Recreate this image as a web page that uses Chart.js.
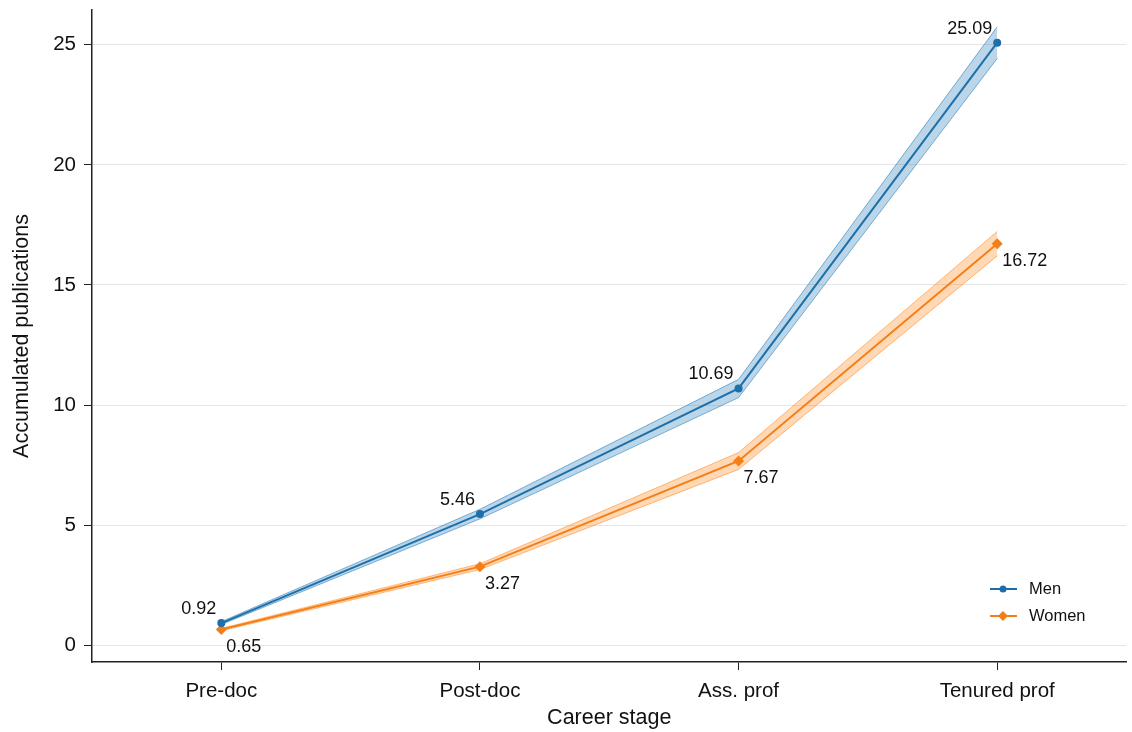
<!DOCTYPE html>
<html>
<head>
<meta charset="utf-8">
<script src="https://cdn.jsdelivr.net/npm/chart.js@4"></script>
<style>
  html, body { margin: 0; padding: 0; background: #fff; }
  #wrap { width: 1132px; height: 732px; }
</style>
</head>
<body>
<div id="wrap"><canvas id="pubChart" width="1132" height="732"></canvas></div>
<script>
// data
const categories = ["Pre-doc", "Post-doc", "Ass. prof", "Tenured prof"];
const menValues = [0.92, 5.46, 10.69, 25.09];
const menLow = [0.86, 5.26, 10.31, 24.43];
const menHigh = [0.98, 5.66, 11.07, 25.75];
const womenValues = [0.65, 3.27, 7.67, 16.72];
const womenLow = [0.60, 3.15, 7.32, 16.21];
const womenHigh = [0.70, 3.39, 8.02, 17.23];
const yTicks = [0, 5, 10, 15, 20, 25];

const menColor = "#1f6da8";
const womenColor = "#f27e1a";
const font = "'Liberation Sans', Arial, Helvetica, sans-serif";

// value labels next to each point
const valueLabels = {
  id: "valueLabels",
  afterDatasetsDraw(chart) {
    const ctx = chart.ctx;
    ctx.save();
    ctx.font = "18px " + font;
    ctx.fillStyle = "#111";
    ctx.textBaseline = "middle";
    chart.data.datasets.forEach((ds, i) => {
      if (!ds.labelPos) return;
      const meta = chart.getDatasetMeta(i);
      meta.data.forEach((pt, j) => {
        const txt = ds.data[j].toFixed(2);
        if (ds.labelPos === "above") {
          ctx.textAlign = "right";
          ctx.fillText(txt, pt.x - 5, pt.y - 14);
        } else {
          ctx.textAlign = "left";
          ctx.fillText(txt, pt.x + 5, pt.y + 17);
        }
      });
    });
    ctx.restore();
  }
};

// legend inside the plot, bottom right
const innerLegend = {
  id: "innerLegend",
  afterDraw(chart) {
    const ctx = chart.ctx;
    const items = chart.data.datasets.filter(d => d.labelPos);
    ctx.save();
    ctx.font = "16.5px " + font;
    ctx.textBaseline = "middle";
    ctx.textAlign = "left";
    items.forEach((ds, i) => {
      const y = 589 + i * 27;
      ctx.strokeStyle = ds.borderColor;
      ctx.lineWidth = 2;
      ctx.beginPath();
      ctx.moveTo(990, y);
      ctx.lineTo(1017, y);
      ctx.stroke();
      ctx.fillStyle = ds.borderColor;
      ctx.beginPath();
      if (ds.pointStyle === "rectRot") {
        ctx.moveTo(1003, y - 5); ctx.lineTo(1008, y); ctx.lineTo(1003, y + 5); ctx.lineTo(998, y);
      } else {
        ctx.arc(1003, y, 3.5, 0, Math.PI * 2);
      }
      ctx.fill();
      ctx.fillStyle = "#111";
      ctx.fillText(ds.label, 1029, y);
    });
    ctx.restore();
  }
};

const bandStyle = (data, fillColor, edgeColor, fill) => ({
  data: data,
  borderColor: edgeColor,
  borderWidth: 1,
  backgroundColor: fillColor,
  pointRadius: 0,
  fill: fill,
  tension: 0
});

new Chart(document.getElementById("pubChart"), {
  type: "line",
  data: {
    labels: categories,
    datasets: [
      bandStyle(menHigh, "rgba(31,119,180,0.3)", "rgba(31,119,180,0.55)", "+1"),
      bandStyle(menLow, "rgba(31,119,180,0.3)", "rgba(31,119,180,0.55)", false),
      bandStyle(womenHigh, "rgba(255,127,14,0.3)", "rgba(255,127,14,0.5)", "+1"),
      bandStyle(womenLow, "rgba(255,127,14,0.3)", "rgba(255,127,14,0.5)", false),
      {
        label: "Men", data: menValues, labelPos: "above",
        borderColor: menColor, backgroundColor: menColor, borderWidth: 2,
        pointStyle: "circle", pointRadius: 4, pointBorderWidth: 0, fill: false
      },
      {
        label: "Women", data: womenValues, labelPos: "below",
        borderColor: womenColor, backgroundColor: womenColor, borderWidth: 2,
        pointStyle: "rectRot", pointRadius: 5.5, pointBorderWidth: 0, fill: false
      }
    ]
  },
  options: {
    responsive: false,
    animation: false,
    layout: { padding: { top: 10, right: 5, left: 0, bottom: 0 } },
    plugins: { legend: { display: false }, tooltip: { enabled: false } },
    scales: {
      x: {
        type: "category",
        offset: true,
        afterFit: s => { s.height = 70; s.paddingLeft = 0; s.paddingRight = 0; },
        grid: { drawOnChartArea: false, drawTicks: true, tickLength: 8, tickColor: "#222", tickWidth: 1 },
        border: { color: "#222", width: 1.5 },
        ticks: { color: "#111", font: { family: font, size: 20.5 }, padding: 9, maxRotation: 0 },
        title: { display: true, text: "Career stage", color: "#111", font: { family: font, size: 21.5 }, padding: { top: 0, bottom: 1 } }
      },
      y: {
        min: -0.7,
        max: 26.45,
        afterFit: s => { s.width = 92; s.paddingTop = 0; s.paddingBottom = 0; },
        afterBuildTicks: s => { s.ticks = yTicks.map(v => ({ value: v })); },
        grid: { color: "#e6e6e6", lineWidth: 1, tickColor: "#222", tickLength: 8 },
        border: { color: "#222", width: 1.5 },
        ticks: { color: "#111", font: { family: font, size: 20.5 }, padding: 8 },
        title: { display: true, text: "Accumulated publications", color: "#111", font: { family: font, size: 21.5 }, padding: { top: 9, bottom: 0 } }
      }
    }
  },
  plugins: [valueLabels, innerLegend]
});
</script>
</body>
</html>
